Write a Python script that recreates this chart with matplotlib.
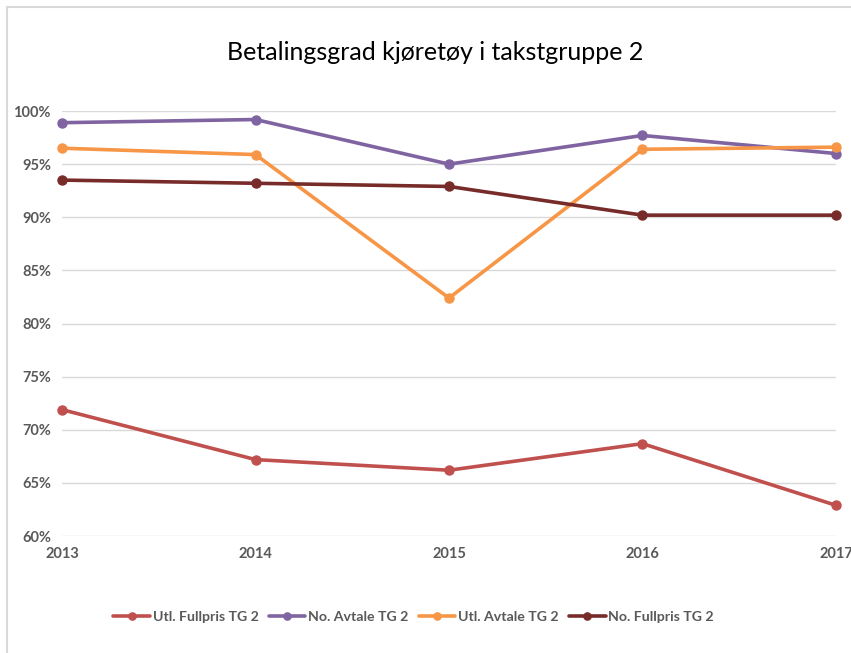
import matplotlib.pyplot as plt
from matplotlib.patches import Rectangle
from matplotlib.ticker import FuncFormatter

years = [2013, 2014, 2015, 2016, 2017]
utl_fullpris = [71.9, 67.2, 66.2, 68.7, 62.9]
no_avtale = [98.9, 99.2, 95.0, 97.7, 96.0]
utl_avtale = [96.5, 95.9, 82.4, 96.4, 96.6]
no_fullpris = [93.5, 93.2, 92.9, 90.2, 90.2]

series = [
    ("Utl. Fullpris TG 2", utl_fullpris, "#c0504d"),
    ("No. Avtale TG 2", no_avtale, "#8064a2"),
    ("Utl. Avtale TG 2", utl_avtale, "#f79646"),
    ("No. Fullpris TG 2", no_fullpris, "#772c2a"),
]

plt.rcParams['font.family'] = ['Lato', 'DejaVu Sans']

fig = plt.figure(figsize=(8.51, 6.53), dpi=100)
ax = fig.add_axes([0.0729, 0.179, 0.9094, 0.651])

for name, vals, col in series:
    ax.plot(years, vals, color=col, lw=2.6, marker='o', ms=6.5, label=name,
            solid_capstyle='round', clip_on=False, zorder=3)

ax.set_xlim(2013, 2017)
ax.set_ylim(60, 100)
ax.set_yticks(range(60, 101, 5))
ax.yaxis.set_major_formatter(FuncFormatter(lambda v, p: f"{v:.0f}%"))
ax.set_xticks(years)
ax.grid(axis='y', color='#d9d9d9', lw=1)
ax.set_axisbelow(True)
for s in ax.spines.values():
    s.set_visible(False)
ax.tick_params(length=0, labelsize=10.5, labelcolor='#595959', pad=8)
for lab in ax.get_xticklabels() + ax.get_yticklabels():
    lab.set_fontweight('bold')

fig.text(0.511, 0.92, "Betalingsgrad kjøretøy i takstgruppe 2", ha='center', va='center',
         fontsize=18, color='#000000')

leg = fig.legend(loc='center', bbox_to_anchor=(0.486, 0.055), ncol=4, frameon=False,
                 fontsize=10.2, handlelength=2.6, columnspacing=0.7, handletextpad=0.2,
                 markerscale=0.8)
for t in leg.get_texts():
    t.set_color('#595959')
    t.set_fontweight('bold')

# chart border (right and bottom edges fall outside the crop)
fig.patches.append(Rectangle((0.008, -0.1), 1.2, 1.09, transform=fig.transFigure,
                             fill=False, edgecolor='#d9d9d9', lw=1.5))

fig.savefig("out.png", dpi=100)
